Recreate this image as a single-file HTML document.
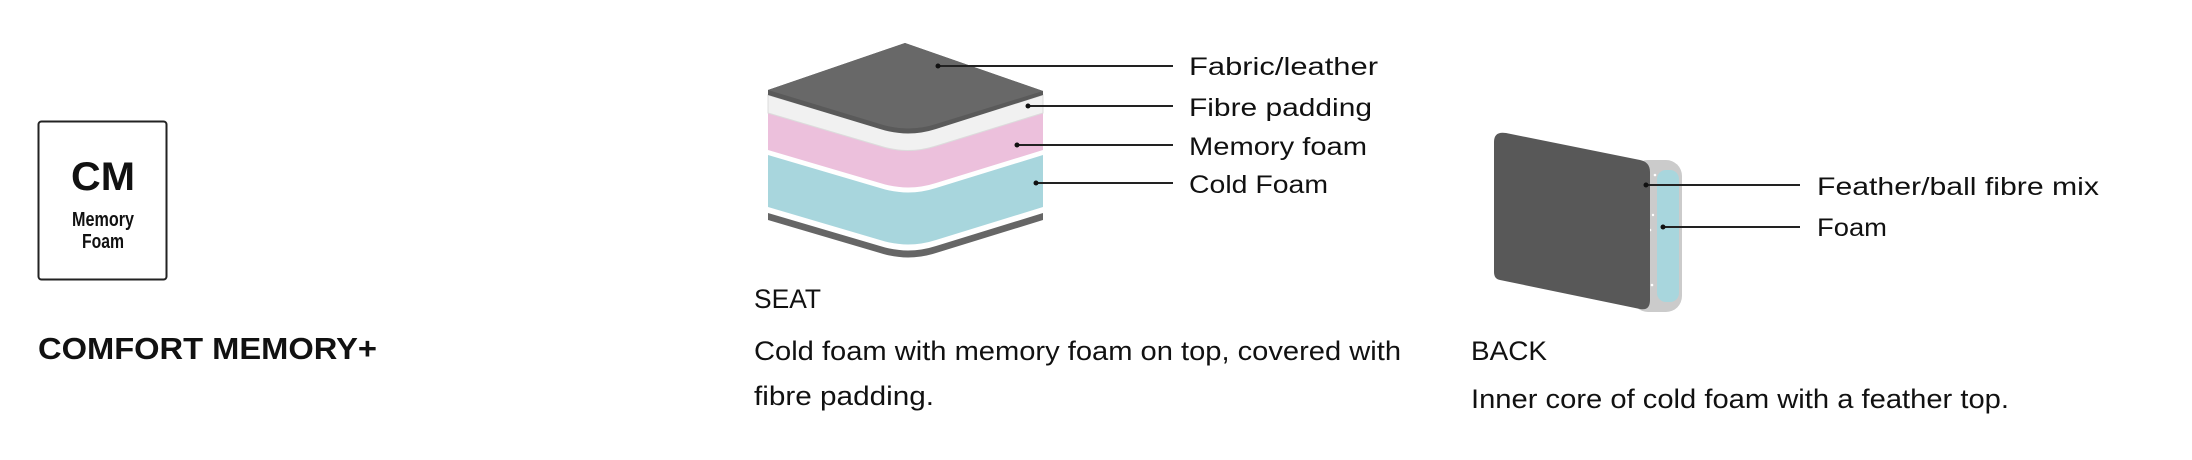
<!DOCTYPE html>
<html><head><meta charset="utf-8"><style>
html,body{margin:0;padding:0;background:#fff;}
svg{display:block;}
text{font-family:"Liberation Sans",sans-serif;fill:#111;}
</style></head><body>
<svg width="2192" height="460" viewBox="0 0 2192 460" xmlns="http://www.w3.org/2000/svg">
<rect x="0" y="0" width="2192" height="460" fill="#fff"/>
<!-- CM badge -->
<rect x="38.5" y="121.5" width="128" height="158" rx="3" fill="#fff" stroke="#222" stroke-width="2"/>
<text x="103" y="190" font-size="40" font-weight="bold" text-anchor="middle" textLength="64" lengthAdjust="spacingAndGlyphs">CM</text>
<text x="103" y="226" font-size="20" font-weight="bold" text-anchor="middle" textLength="62" lengthAdjust="spacingAndGlyphs">Memory</text>
<text x="103" y="248" font-size="20" font-weight="bold" text-anchor="middle" textLength="42" lengthAdjust="spacingAndGlyphs">Foam</text>
<text x="38" y="359" font-size="31" font-weight="bold" textLength="339" lengthAdjust="spacingAndGlyphs">COMFORT MEMORY+</text>

<!-- Seat layers -->
<path d="M768,213 L880,246 Q908,255 936,246 L1043,213 L1043,220 L936,253 Q908,262 880,253 L768,220 Z" fill="#666"/>
<path d="M768,155 L880,188 Q908,197 936,188 L1043,155 L1043,207 L936,240 Q908,249 880,240 L768,207 Z" fill="#a8d6dd"/>
<path d="M768,112 L880,145 Q908,154 936,145 L1043,112 L1043,150 L936,183 Q908,192 880,183 L768,150 Z" fill="#ecc0dc"/>
<path d="M768,95 L880,128 Q908,137 936,128 L1043,95 L1043,113 L936,146 Q908,155 880,146 L768,113 Z" fill="#f1f1f1" stroke="#dcdcdc" stroke-width="1"/>
<path d="M768,90 L905,43 L1043,91 L1043,95 L936,129 Q908,138 880,129 L768,95 Z" fill="#5a5a5a"/>
<path d="M768,90 L905,43 L1043,91 L936,124 Q908,133 880,124 Z" fill="#686868"/>

<!-- Seat leaders -->
<g stroke="#222" stroke-width="2">
<line x1="938" y1="66" x2="1173" y2="66"/>
<line x1="1028" y1="106" x2="1173" y2="106"/>
<line x1="1017" y1="145" x2="1173" y2="145"/>
<line x1="1036" y1="183" x2="1173" y2="183"/>
</g>
<g fill="#111">
<circle cx="938" cy="66" r="2.5"/><circle cx="1028" cy="106" r="2.5"/><circle cx="1017" cy="145" r="2.5"/><circle cx="1036" cy="183" r="2.5"/>
</g>
<g font-size="25">
<text x="1189" y="75" textLength="189" lengthAdjust="spacingAndGlyphs">Fabric/leather</text>
<text x="1189" y="116" textLength="183" lengthAdjust="spacingAndGlyphs">Fibre padding</text>
<text x="1189" y="155" textLength="178" lengthAdjust="spacingAndGlyphs">Memory foam</text>
<text x="1189" y="193" textLength="139" lengthAdjust="spacingAndGlyphs">Cold Foam</text>
</g>
<text x="754" y="308" font-size="27" textLength="67" lengthAdjust="spacingAndGlyphs">SEAT</text>
<text x="754" y="360" font-size="27" textLength="647" lengthAdjust="spacingAndGlyphs">Cold foam with memory foam on top, covered with</text>
<text x="754" y="405" font-size="27" textLength="180" lengthAdjust="spacingAndGlyphs">fibre padding.</text>

<!-- Back -->
<rect x="1632" y="160" width="50" height="152" rx="16" fill="#cbcbcb"/>
<g fill="#fff">
<circle cx="1646" cy="200" r="1.5"/><circle cx="1650" cy="230" r="1.3"/><circle cx="1644" cy="260" r="1.5"/><circle cx="1652" cy="285" r="1.3"/><circle cx="1648" cy="300" r="1.5"/><circle cx="1655" cy="175" r="1.3"/><circle cx="1645" cy="245" r="1.2"/><circle cx="1653" cy="215" r="1.2"/>
</g>
<rect x="1657" y="170" width="22" height="132" rx="9" fill="#a8d6dd"/>
<path d="M1506,133 L1640,160 Q1650,162 1650,172 L1650,300 Q1650,311 1640,309 L1500,280 Q1494,279 1494,272 L1494,142 Q1494,131 1506,133 Z" fill="#585858"/>
<g stroke="#222" stroke-width="2">
<line x1="1646" y1="185" x2="1800" y2="185"/>
<line x1="1663" y1="227" x2="1800" y2="227"/>
</g>
<circle cx="1646" cy="185" r="2.5" fill="#111"/><circle cx="1663" cy="227" r="2.5" fill="#111"/>
<text x="1817" y="195" font-size="25" textLength="282" lengthAdjust="spacingAndGlyphs">Feather/ball fibre mix</text>
<text x="1817" y="236" font-size="25" textLength="70" lengthAdjust="spacingAndGlyphs">Foam</text>
<text x="1471" y="360" font-size="27" textLength="76" lengthAdjust="spacingAndGlyphs">BACK</text>
<text x="1471" y="408" font-size="27" textLength="538" lengthAdjust="spacingAndGlyphs">Inner core of cold foam with a feather top.</text>
</svg>
</body></html>
